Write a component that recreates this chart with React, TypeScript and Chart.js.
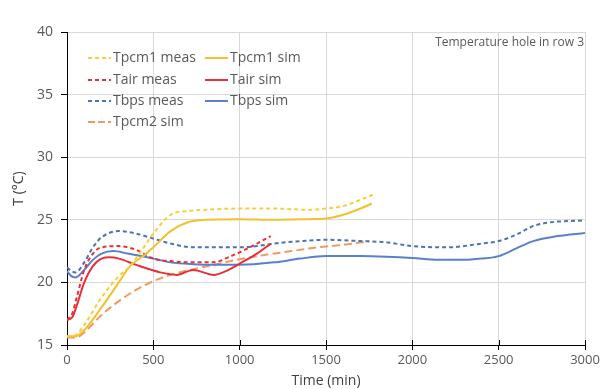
import { useEffect, useRef } from 'react';
import { Chart, registerables } from 'chart.js';

Chart.register(...registerables);

const tpcm1MeasTime = [0, 50, 100, 200, 300, 365, 450, 500, 600, 700, 800, 1000, 1200, 1400, 1500, 1600, 1700, 1770];
const tpcm1MeasVal = [15.7, 15.8, 16.6, 18.8, 20.5, 21.3, 22.9, 23.9, 25.4, 25.7, 25.8, 25.9, 25.9, 25.8, 25.9, 26.1, 26.6, 27.0];

const tpcm1SimTime = [0, 50, 100, 200, 300, 365, 450, 500, 600, 700, 800, 1000, 1200, 1400, 1500, 1600, 1700, 1765];
const tpcm1SimVal = [15.7, 15.7, 16.2, 18.0, 20.0, 21.3, 22.2, 22.8, 24.1, 24.8, 25.0, 25.05, 25.0, 25.05, 25.1, 25.4, 25.9, 26.3];

const tairMeasTime = [0, 30, 60, 100, 150, 200, 300, 400, 500, 600, 700, 850, 950, 1000, 1100, 1180];
const tairMeasVal = [17.0, 17.5, 19.0, 21.0, 22.3, 22.8, 22.9, 22.6, 21.9, 21.7, 21.6, 21.6, 22.1, 22.4, 23.1, 23.7];

const tairSimTime = [0, 30, 60, 100, 150, 200, 250, 300, 400, 540, 635, 730, 850, 920, 1000, 1100, 1180];
const tairSimVal = [17.0, 17.2, 18.3, 20.0, 21.3, 21.9, 22.0, 21.9, 21.4, 20.8, 20.6, 21.0, 20.6, 20.9, 21.5, 22.3, 23.1];

const tbpsMeasTime = [0, 25, 50, 100, 150, 200, 300, 400, 500, 600, 730, 850, 1000, 1100, 1200, 1350, 1500, 1700, 1850, 2000, 2200, 2400, 2500, 2600, 2700, 2800, 2900, 3000];
const tbpsMeasVal = [21.2, 20.9, 20.8, 21.6, 22.8, 23.6, 24.1, 23.9, 23.5, 23.1, 22.8, 22.8, 22.8, 22.9, 23.1, 23.3, 23.4, 23.3, 23.2, 22.9, 22.8, 23.1, 23.3, 23.8, 24.5, 24.8, 24.9, 24.95];

const tbpsSimTime = [0, 25, 50, 100, 150, 200, 270, 350, 500, 600, 730, 850, 1000, 1200, 1350, 1500, 1700, 1850, 2000, 2150, 2300, 2400, 2500, 2600, 2700, 2840, 3000];
const tbpsSimVal = [20.9, 20.5, 20.4, 21.0, 21.8, 22.3, 22.5, 22.3, 21.9, 21.6, 21.45, 21.4, 21.4, 21.6, 21.9, 22.1, 22.1, 22.05, 21.95, 21.8, 21.8, 21.9, 22.1, 22.7, 23.3, 23.7, 23.95];

const tpcm2SimTime = [0, 50, 100, 150, 200, 300, 400, 500, 600, 730, 850, 1000, 1150, 1300, 1450, 1600, 1750];
const tpcm2SimVal = [15.6, 15.6, 16.0, 16.7, 17.4, 18.5, 19.4, 20.1, 20.6, 21.05, 21.4, 21.85, 22.2, 22.5, 22.8, 23.0, 23.3];

const xTicks = [0, 500, 1000, 1500, 2000, 2500, 3000];
const yTicks = [15, 20, 25, 30, 35, 40];

const FONT = "'Open Sans', sans-serif";

type SeriesDef = { label: string; t: number[]; v: number[]; color: string; dash: number[] };

const series: SeriesDef[] = [
  { label: 'Tpcm1 meas', t: tpcm1MeasTime, v: tpcm1MeasVal, color: '#F7CF3D', dash: [4, 3] },
  { label: 'Tpcm1 sim', t: tpcm1SimTime, v: tpcm1SimVal, color: '#F2C12E', dash: [] },
  { label: 'Tair meas', t: tairMeasTime, v: tairMeasVal, color: '#E8303A', dash: [4, 3] },
  { label: 'Tair sim', t: tairSimTime, v: tairSimVal, color: '#E8303A', dash: [] },
  { label: 'Tbps meas', t: tbpsMeasTime, v: tbpsMeasVal, color: '#4F71B8', dash: [4, 3] },
  { label: 'Tbps sim', t: tbpsSimTime, v: tbpsSimVal, color: '#5B7FCB', dash: [] },
  { label: 'Tpcm2 sim', t: tpcm2SimTime, v: tpcm2SimVal, color: '#EE9C62', dash: [8, 4] },
];

const legendPlugin = {
  id: 'customLegend',
  afterDraw(chart: any) {
    const ctx = chart.ctx;
    ctx.save();
    const xs = chart.scales.x;
    ctx.strokeStyle = '#000';
    ctx.lineWidth = 1;
    ctx.setLineDash([]);
    xTicks.forEach((t) => {
      const px = Math.round(xs.getPixelForValue(t)) + 0.5;
      ctx.beginPath();
      ctx.moveTo(px, chart.chartArea.bottom - 5);
      ctx.lineTo(px, chart.chartArea.bottom);
      ctx.stroke();
    });
    const positions = [
      [88, 58], [205, 58],
      [88, 80], [205, 80],
      [88, 101], [205, 101],
      [88, 122],
    ];
    ctx.font = `14px ${FONT}`;
    ctx.textBaseline = 'middle';
    ctx.textAlign = 'left';
    series.forEach((s, i) => {
      const [x, y] = positions[i];
      ctx.strokeStyle = s.color;
      ctx.lineWidth = 2;
      ctx.setLineDash(s.dash.length ? (s.dash[0] > 5 ? [7, 3] : [4, 3]) : []);
      ctx.beginPath();
      ctx.moveTo(x, y);
      ctx.lineTo(x + 23, y);
      ctx.stroke();
      ctx.setLineDash([]);
      ctx.fillStyle = '#595959';
      ctx.fillText(s.label, x + 25, y);
    });
    ctx.font = `12px ${FONT}`;
    ctx.textAlign = 'right';
    ctx.fillStyle = '#595959';
    ctx.fillText('Temperature hole in row 3', 584, 43);
    ctx.restore();
  },
};

export default function App() {
  const ref = useRef<HTMLCanvasElement>(null);
  useEffect(() => {
    document.body.style.margin = '0';
    const canvas = ref.current;
    if (!canvas) return;
    const chart = new Chart(canvas, {
      type: 'line',
      data: {
        datasets: series.map((s) => ({
          label: s.label,
          data: s.t.map((t, i) => ({ x: t, y: s.v[i] })),
          borderColor: s.color,
          backgroundColor: s.color,
          borderWidth: 2,
          borderDash: s.dash,
          pointRadius: 0,
          fill: false,
          cubicInterpolationMode: 'monotone' as const,
        })),
      },
      options: {
        responsive: false,
        animation: false,
        layout: { padding: { top: 32, right: 18, left: 0, bottom: 0 } },
        plugins: { legend: { display: false }, tooltip: { enabled: false } },
        scales: {
          x: {
            type: 'linear',
            min: 0,
            max: 3000,
            afterFit: (s: any) => { s.height = 44; },
            afterBuildTicks: (s: any) => { s.ticks = xTicks.map((v) => ({ value: v })); },
            grid: { color: '#D9D9D9', tickColor: '#000', tickLength: 5 },
            border: { color: '#000', width: 1 },
            ticks: { color: '#595959', font: { family: FONT, size: 13 }, padding: 2, maxRotation: 0, callback: (v: any) => String(v) },
            title: { display: true, text: 'Time (min)', color: '#404040', font: { family: FONT, size: 14 }, padding: { top: -2, bottom: 0 } },
          },
          y: {
            min: 15,
            max: 40,
            afterFit: (s: any) => { s.width = 67; },
            afterBuildTicks: (s: any) => { s.ticks = yTicks.map((v) => ({ value: v })); },
            grid: { color: '#D9D9D9', tickColor: '#000', tickLength: 6 },
            border: { color: '#000', width: 1 },
            ticks: { color: '#595959', font: { family: FONT, size: 14 }, padding: 8, callback: (v: any) => String(v) },
            title: { display: true, text: 'T (°C)', color: '#404040', font: { family: FONT, size: 14 }, padding: { top: 11, bottom: 0 } },
          },
        },
      },
      plugins: [legendPlugin],
    });
    return () => chart.destroy();
  }, []);
  return <canvas ref={ref} width={603} height={389} style={{ display: 'block' }} />;
}
